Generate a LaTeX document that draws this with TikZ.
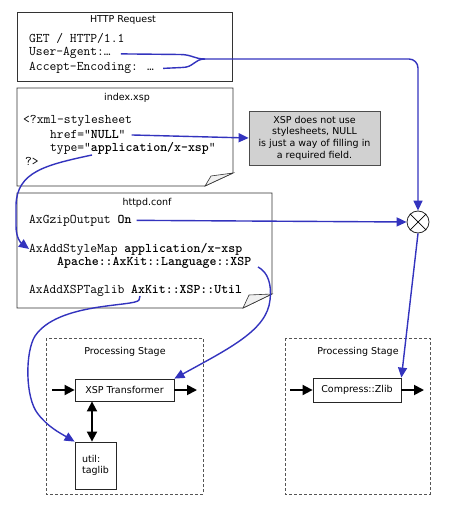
\documentclass[tikz,border=0pt]{standalone}
\usepackage{fontspec}
\setmainfont{DejaVu Sans}
\usetikzlibrary{arrows.meta}
\definecolor{arrowblue}{RGB}{51,51,190}
\definecolor{dashgray}{RGB}{85,85,85}
\begin{document}
\begin{tikzpicture}[x=1pt,y=-1pt,
  doc/.style={draw=black!80, line width=0.8pt, fill=white},
  flap/.style={draw=black!80, line width=0.6pt, fill=black!6},
  title/.style={font=\fontsize{9.5}{11}\selectfont, inner sep=0pt, anchor=center},
  mono/.style={font=\fontsize{13.2}{14}\selectfont\ttfamily, inner sep=0pt, anchor=base west},
  bluearrow/.style={draw=arrowblue, line width=1.4pt, -{Triangle[length=10pt,width=9pt]}},
  blueline/.style={draw=arrowblue, line width=1.4pt},
  stagebox/.style={draw=dashgray, dash pattern=on 3pt off 2pt, line width=0.9pt},
  proc/.style={draw=black!85, line width=0.8pt, fill=white, font=\fontsize{9.5}{11}\selectfont, inner sep=0pt},
  blackarrow/.style={draw=black, line width=1.8pt, -{Triangle[length=10pt,width=10pt]}},
  note/.style={draw=black!70, line width=0.8pt, fill=black!18, align=center, font=\fontsize{9.5}{11.7}\selectfont, inner sep=0pt},
]
\useasboundingbox (0,0) rectangle (450,510);

% HTTP Request box
\draw[doc] (17,12) rectangle (232,81);
\node[title] (httpT) at (123,20) {HTTP Request};
\node[mono] (get) at (29,43) {GET / HTTP/1.1};
\node[mono] (ua) at (29,56) {User-Agent:…};
\node[mono] (ae) at (29,71) {Accept-Encoding: …};

% index.xsp box
\draw[doc] (17,88) -- (233,88) -- (233,173) -- (205,186) -- (17,186) -- cycle;
\draw[flap] (205,186) -- (211,176) -- (233,173) -- cycle;
\node[title] (idxT) at (127,98) {index.xsp};
\node[mono] (xml) at (23,124) {<?xml-stylesheet};
\node[mono] (href) at (50,139) {href=“\textbf{NULL}”};
\node[mono] (type) at (50,152) {type=“\textbf{application/x-xsp}”};
\node[mono] (pi) at (25,166) {?>};

% note
\node[note, minimum width=131pt, minimum height=54pt] (note) at (314.5,138)
  {XSP does not use\\stylesheets, NULL\\is just a way of filling in\\a required field.};

% httpd.conf box
\draw[doc] (17,193) -- (272,193) -- (272,294) -- (243,308) -- (17,308) -- cycle;
\draw[flap] (243,308) -- (249,295) -- (272,294) -- cycle;
\node[title] (confT) at (147,203) {httpd.conf};
\node[mono] (gzip) at (29,223) {AxGzipOutput \textbf{On}};
\node[mono] (stylemap) at (29,252) {AxAddStyleMap \textbf{application/x-xsp}};
\node[mono] (apache) at (57,265) {\textbf{Apache::AxKit::Language::XSP}};
\node[mono] (taglib) at (29,293) {AxAddXSPTaglib \textbf{AxKit::XSP::Util}};

% crossed circle
\node[circle, draw=black!85, line width=0.8pt, fill=white, minimum size=22pt, inner sep=0pt] (cross) at (418,222) {};
\draw[line width=0.7pt] (cross.north east) -- (cross.south west);
\draw[line width=0.7pt] (cross.north west) -- (cross.south east);

% processing stages
\draw[stagebox] (46,338) rectangle (203,494);
\draw[stagebox] (285,338) rectangle (430,494);
\node[title] (stageL) at (125,352) {Processing Stage};
\node[title] (stageR) at (358,352) {Processing Stage};

\node[proc, minimum width=99pt, minimum height=22pt] (xsp) at (124.5,390) {XSP Transformer};
\node[proc, minimum width=88pt, minimum height=24pt] (zlib) at (357,390) {Compress::Zlib};
\node[proc, minimum width=41pt, minimum height=47pt, align=left] (util) at (95.5,465.5) {util:\\taglib};

\coordinate (xin) at (52,390);
\coordinate (xout) at (197,390);
\coordinate (zin) at (290,390);
\coordinate (zout) at (424,390);
\coordinate (dx) at (92,0);
\draw[blackarrow] (xin) -- (xsp.west);
\draw[blackarrow] (xsp.east) -- (xout);
\draw[blackarrow] (zin) -- (zlib.west);
\draw[blackarrow] (zlib.east) -- (zout);
\draw[blackarrow, {Triangle[length=10pt,width=10pt]}-{Triangle[length=10pt,width=10pt]}] (xsp.south -| dx) -- (util.north -| dx);

% blue connectors
\coordinate (merge) at (205,59);
\draw[blueline] ([xshift=10pt,yshift=-0.5pt]ua.east) -- (180,54.5) .. controls (192,54.5) and (194,59) .. (merge);
\draw[blueline] ([xshift=9pt]ae.east) -- (182,67.5) .. controls (194,67.5) and (194,59) .. (merge);
\draw[bluearrow, rounded corners=9pt] (merge) -| (cross.north);

\draw[bluearrow] ([xshift=6pt]href.east) -- (note.west);
\draw[bluearrow] ([xshift=5pt]gzip.east) -- (cross.west);
\draw[bluearrow] (cross.south) -- (zlib.north east);

\coordinate (typestart) at (92,155);
\draw[bluearrow] (typestart) .. controls (45,165) and (17,172) .. (16,205)
  -- (16,226) .. controls (16,238) and (21,243) .. (stylemap.west);

\coordinate (tgstart) at (140,296);
\draw[bluearrow] (tgstart) -- (139,300) .. controls (135,307) and (58,302) .. (35,336)
  .. controls (25,352) and (25,398) .. (38,414) .. controls (48,427) and (60,433) .. (util.north west);

\coordinate (apstart) at (258,267);
\draw[bluearrow] (apstart) .. controls (268,272) and (272,285) .. (270,300)
  .. controls (267,330) and (230,348) .. (xsp.north east);
\end{tikzpicture}
\end{document}
